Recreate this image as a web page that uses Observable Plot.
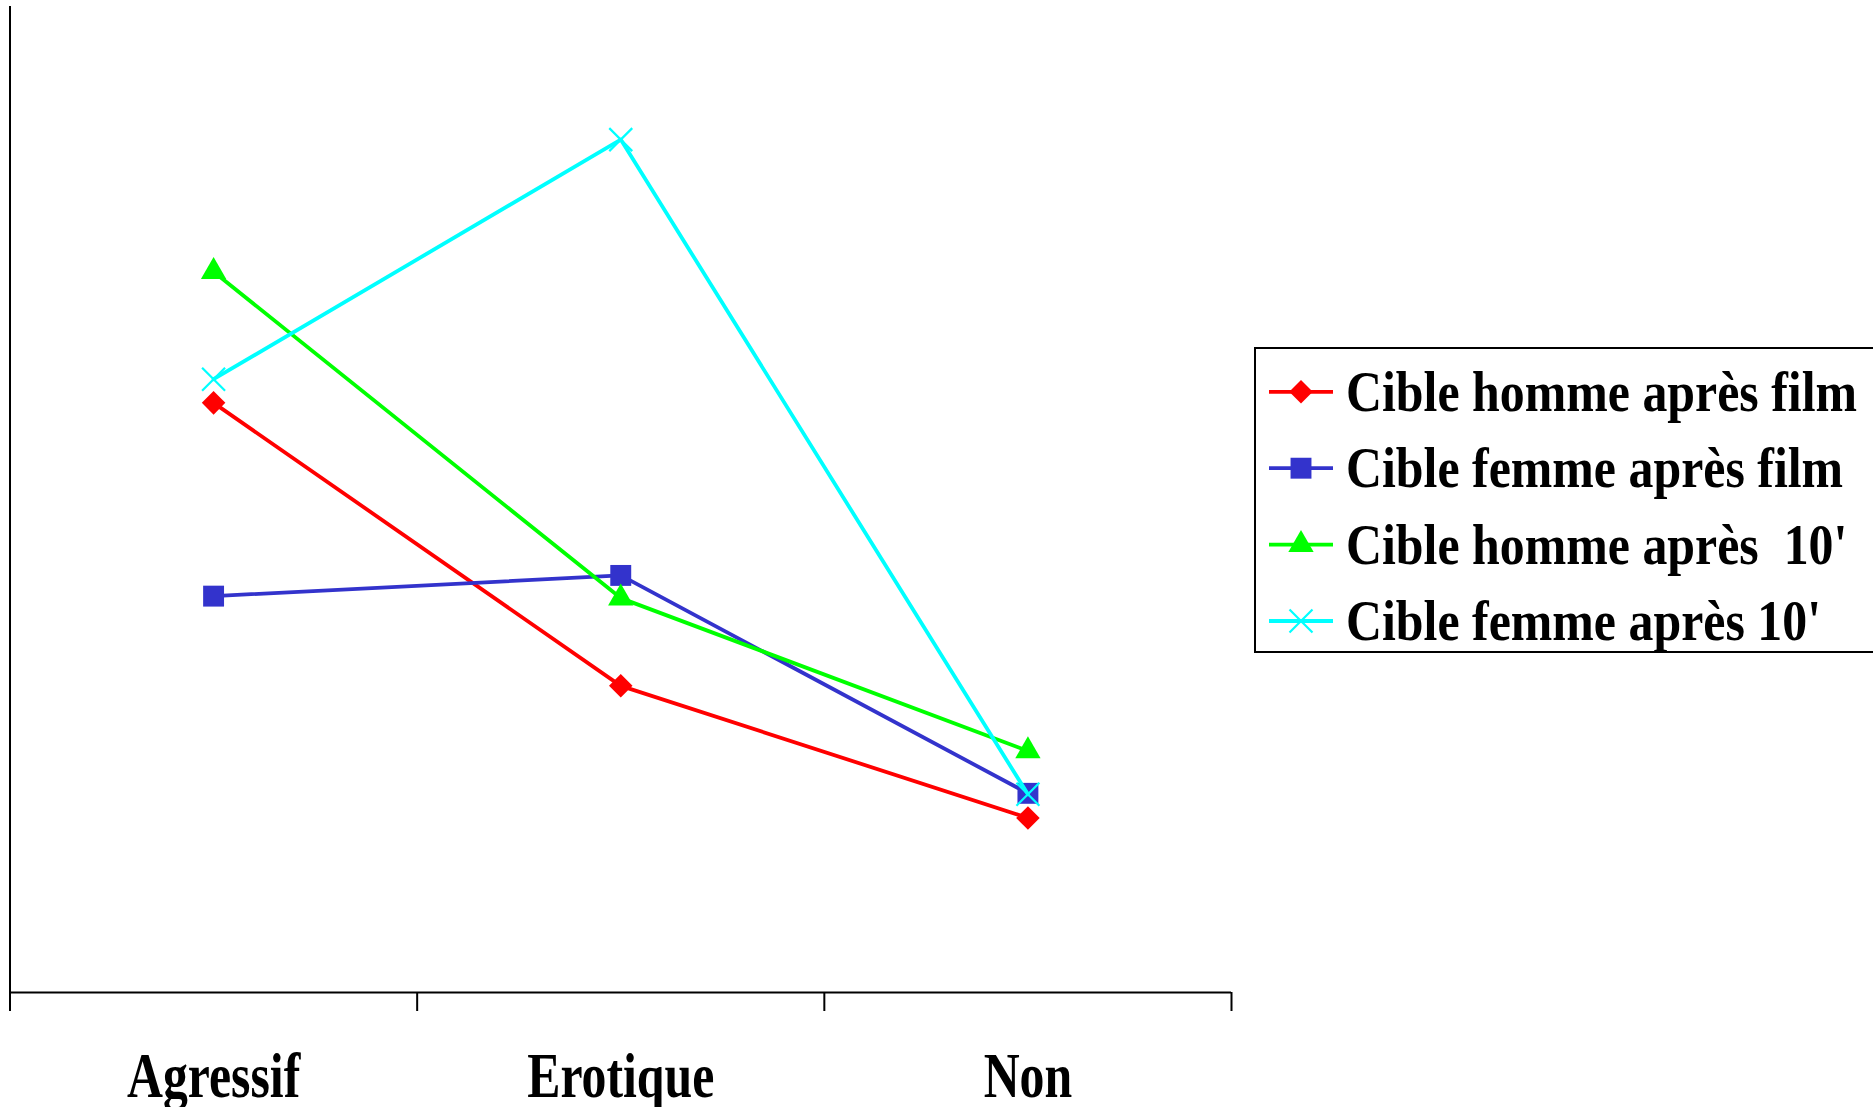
<!DOCTYPE html>
<html>
<head>
<meta charset="utf-8">
<script src="https://cdn.jsdelivr.net/npm/d3@7"></script>
<script src="https://cdn.jsdelivr.net/npm/@observablehq/plot@0.6"></script>
<style>
  html, body { margin: 0; padding: 0; background: #fff; overflow: hidden; }
  #wrap { position: relative; width: 1873px; height: 1107px; }
  #legend { position: absolute; left: 1254px; top: 347px; }
  text { white-space: pre; }
</style>
</head>
<body>
<div id="wrap"><div id="chart"></div><div id="legend"></div></div>
<script>
// ---- data ----
const categories = ["Agressif", "Erotique", "Non"];
const seriesNames = ["Cible homme après film", "Cible femme après film", "Cible homme après  10'", "Cible femme après 10'"];
const hommeApresFilm = [59.8, 31.1, 17.7];
const femmeApresFilm = [40.2, 42.3, 20.2];
const hommeApres10 = [73.1, 40.0, 24.5];
const femmeApres10 = [62.2, 86.5, 20.1];
const boundaryTicks = [0, 1, 2, 3];

// ---- styles ----
const seriesValues = [hommeApresFilm, femmeApresFilm, hommeApres10, femmeApres10];
const seriesColors = ["#ff0000", "#3333cc", "#00ff00", "#00ffff"];
const seriesSymbols = ["diamond2", "square", "triangle", "times"];
const symbolR = {diamond2: 10.6, square: 11.8, triangle: 9.4, times: 10.5};
const FONT = "'Liberation Serif', 'Times New Roman', serif";

const rows = [];
seriesNames.forEach((s, si) => categories.forEach((c, ci) => rows.push({series: s, si, category: c, index: ci, value: seriesValues[si][ci]})));

const marks = [
  Plot.ruleX([0], {stroke: "#000", strokeWidth: 2}),
  Plot.ruleY([0], {stroke: "#000", strokeWidth: 2}),
  Plot.axisX({ticks: boundaryTicks, tickSize: 19, tickFormat: () => "", strokeWidth: 2, stroke: "#000"}),
  Plot.axisX({ticks: categories.map((c, i) => i + 0.5), tickSize: 0, tickPadding: 60,
    tickFormat: d => categories[Math.floor(d)], fontSize: 63, fontWeight: "bold", fontFamily: FONT, fill: "#000", textAnchor: "middle"})
];
seriesNames.forEach((s, si) => {
  const data = rows.filter(r => r.si === si);
  marks.push(Plot.line(data, {x: d => d.index + 0.5, y: "value", stroke: seriesColors[si], strokeWidth: 3.8}));
  const sym = seriesSymbols[si];
  if (sym === "times") {
    marks.push(Plot.dot(data, {x: d => d.index + 0.5, y: "value", symbol: sym, r: symbolR[sym], stroke: seriesColors[si], fill: "none", strokeWidth: 2.2}));
  } else {
    marks.push(Plot.dot(data, {x: d => d.index + 0.5, y: "value", symbol: sym, r: symbolR[sym], fill: seriesColors[si], stroke: "none"}));
  }
});

const chart = Plot.plot({
  width: 1873, height: 1107,
  marginLeft: 9.5, marginRight: 642, marginTop: 6, marginBottom: 115,
  x: {type: "linear", domain: [0, 3], axis: null},
  y: {domain: [0, 100], axis: null},
  style: {background: "#fff", overflow: "visible"},
  marks
});
document.getElementById("chart").appendChild(chart);

// horizontal compression of tick labels (narrow Times-like look)
d3.select(chart).selectAll('g[aria-label="x-axis tick label"] text').each(function() {
  const el = d3.select(this);
  const t = el.attr("transform");
  if (t) el.attr("transform", t + " scale(0.79,1)");
  else {
    const x = +el.attr("x") || 0, y = +el.attr("y") || 0;
    el.attr("x", null).attr("y", null).attr("transform", `translate(${x},${y}) scale(0.79,1)`);
  }
});

// ---- legend ----
const L = d3.select("#legend").append("svg").attr("width", 640).attr("height", 306);
L.append("rect").attr("x", 1).attr("y", 1).attr("width", 640).attr("height", 304)
  .attr("fill", "#fff").attr("stroke", "#000").attr("stroke-width", 2);
const symMap = {diamond2: d3.symbolDiamond2, square: d3.symbolSquare, triangle: d3.symbolTriangle, times: d3.symbolTimes};
seriesNames.forEach((s, si) => {
  const cy = 44.8 + si * 76.4;
  const g = L.append("g");
  g.append("line").attr("x1", 15).attr("x2", 79).attr("y1", cy).attr("y2", cy)
    .attr("stroke", seriesColors[si]).attr("stroke-width", 3.8);
  const sym = seriesSymbols[si];
  const size = Math.PI * symbolR[sym] * symbolR[sym];
  const p = g.append("path").attr("d", d3.symbol(symMap[sym], size)()).attr("transform", `translate(47,${cy})`);
  if (sym === "times") p.attr("fill", "none").attr("stroke", seriesColors[si]).attr("stroke-width", 2.2);
  else p.attr("fill", seriesColors[si]);
  g.append("text").attr("transform", `translate(92,${cy + 19}) scale(0.86,1)`)
    .attr("font-family", FONT).attr("font-weight", "bold").attr("font-size", 58).attr("fill", "#000")
    .style("white-space", "pre").text(s);
});
</script>
</body>
</html>
